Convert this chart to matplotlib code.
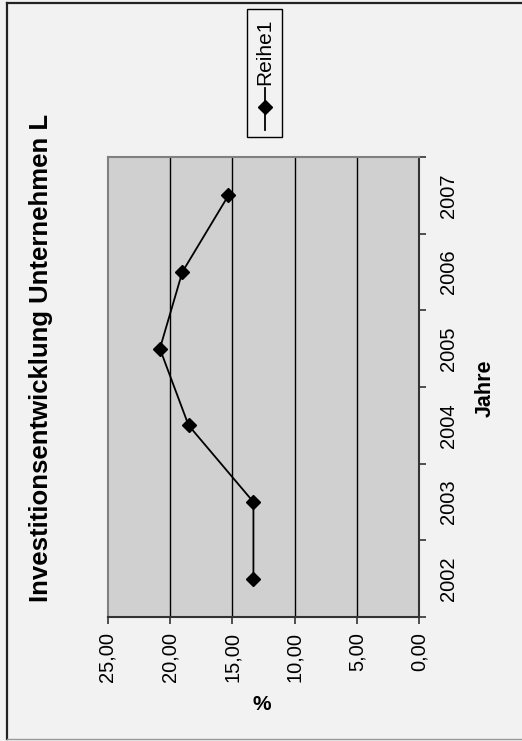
"""Investitionsentwicklung Unternehmen L - rotated Excel-style line chart."""

import matplotlib
matplotlib.use("Agg")
import matplotlib.pyplot as plt
from matplotlib.lines import Line2D
from matplotlib.patches import Rectangle
import numpy as np

years = ["2002", "2003", "2004", "2005", "2006", "2007"]
values = [13.3, 13.3, 18.5, 20.8, 19.0, 15.3]
value_ticks = [0, 5, 10, 15, 20, 25]
value_labels = ["0,00", "5,00", "10,00", "15,00", "20,00", "25,00"]
series_name = "Reihe1"

plt.rcParams["font.family"] = ["Liberation Sans", "DejaVu Sans"]

W, H = 522, 741
fig = plt.figure(figsize=(W / 100, H / 100), dpi=100, facecolor="#f2f2f2")


def fx(px):
    return px / W


def fy(py):
    return 1 - py / H


# outer chart border
fig.add_artist(Line2D([fx(7), fx(7)], [fy(2.5), fy(739)], color="#222222", lw=1.6))
fig.add_artist(Line2D([fx(7), 1.0], [fy(2.5), fy(2.5)], color="#222222", lw=1.6))
fig.add_artist(Line2D([fx(7), 1.0], [fy(739), fy(739)], color="#999999", lw=1.0))

# plot area (value axis horizontal, reversed; years bottom -> top)
left, right, top, bottom = 107.5, 419.3, 157, 617
ax = fig.add_axes([fx(left), fy(bottom), fx(right) - fx(left), fy(top) - fy(bottom)])
ax.set_facecolor("#d0d0d0")

pos = np.arange(len(years))
ax.plot(values, pos, color="black", lw=1.3, marker="D", markersize=7,
        markerfacecolor="black", markeredgecolor="black", zorder=3)

ax.set_xlim(25, 0)
ax.set_ylim(-0.5, len(years) - 0.5)
for v in value_ticks[1:-1]:
    ax.axvline(v, color="black", lw=1.0, zorder=1)

ax.set_xticks(value_ticks)
ax.set_xticklabels(value_labels, rotation=90, fontsize=14.5)
ax.tick_params(axis="x", direction="out", length=5, width=1.2, color="#333333", pad=6)

ax.yaxis.tick_right()
ax.set_yticks(np.arange(len(years) + 1) - 0.5)
ax.set_yticklabels([])
ax.set_yticks(pos, minor=True)
ax.set_yticklabels(years, minor=True, rotation=90, va="center", fontsize=14.5)
ax.tick_params(axis="y", which="major", direction="out", length=5, width=1.2, color="#333333")
ax.tick_params(axis="y", which="minor", length=0, pad=14)

for side in ("left", "top"):
    ax.spines[side].set_color("#808080")
    ax.spines[side].set_linewidth(1.5)
for side in ("right", "bottom"):
    ax.spines[side].set_color("#333333")
    ax.spines[side].set_linewidth(1.5)

# texts
fig.text(fx(41), fy(358), "Investitionsentwicklung Unternehmen L", rotation=90,
         ha="center", va="center", fontsize=18.5, fontweight="bold")
fig.text(fx(485), fy(388), "Jahre", rotation=90, ha="center", va="center",
         fontsize=15.5, fontweight="bold")
fig.text(fx(262), fy(705), "%", rotation=0, ha="center", va="center",
         fontsize=15, fontweight="bold")

# legend box (rotated)
fig.add_artist(Rectangle((fx(246.7), fy(137)), fx(282.3) - fx(246.7), fy(9.3) - fy(137),
                         facecolor="#f2f2f2", edgecolor="black", lw=1.0))
fig.add_artist(Line2D([fx(265), fx(265)], [fy(130), fy(88)], color="black", lw=1.3))
fig.add_artist(Line2D([fx(265)], [fy(107)], color="black", marker="D", markersize=7, lw=0))
fig.text(fx(265), fy(52), series_name, rotation=90, ha="center", va="center", fontsize=15)

fig.savefig("out.png", dpi=100, facecolor=fig.get_facecolor())
